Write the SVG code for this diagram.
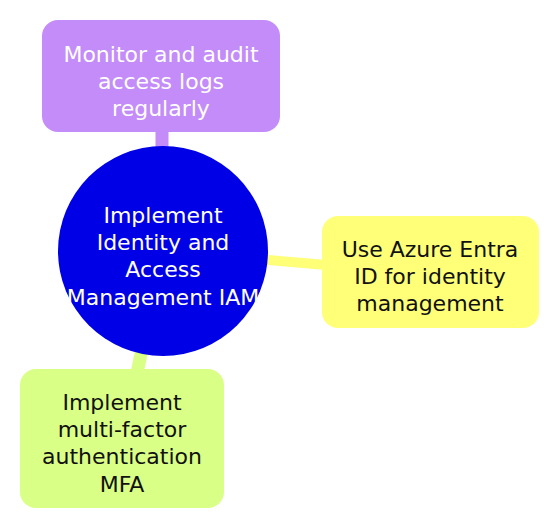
<svg xmlns="http://www.w3.org/2000/svg" width="559" height="529" viewBox="0 0 559 529">
<style>
text{font-family:"DejaVu Sans","Liberation Sans",sans-serif;font-size:22px;text-anchor:middle}
.w{fill:#ffffff}
.k{fill:#111111}
.edge{fill:none;stroke-linecap:butt}
</style>
<rect width="559" height="529" fill="#ffffff"/>
<g id="connectors">
<line class="edge" x1="162" y1="250" x2="162" y2="128" stroke="#C38CF9" stroke-width="13"/>
<line class="edge" x1="163" y1="251" x2="326" y2="265" stroke="#FFFF78" stroke-width="10"/>
<line class="edge" x1="163" y1="251" x2="137" y2="373" stroke="#D9FF86" stroke-width="13"/>
</g>
<g id="node-monitor">
<rect x="42" y="20" width="238" height="112" rx="16" fill="#C38CF9"/>
<text class="w" x="161" y="62">Monitor and audit</text>
<text class="w" x="161" y="89">access logs</text>
<text class="w" x="161" y="116">regularly</text>
</g>
<g id="node-root">
<circle cx="163" cy="251" r="105" fill="#0000E6"/>
<text class="w" x="163" y="223">Implement</text>
<text class="w" x="163" y="250">Identity and</text>
<text class="w" x="163" y="277">Access</text>
<text class="w" x="163" y="305">Management IAM</text>
</g>
<g id="node-azure">
<rect x="322" y="216" width="217" height="112" rx="16" fill="#FFFF78"/>
<text class="k" x="430" y="257">Use Azure Entra</text>
<text class="k" x="430" y="284">ID for identity</text>
<text class="k" x="430" y="311">management</text>
</g>
<g id="node-mfa">
<rect x="20" y="369" width="204" height="139" rx="16" fill="#D9FF86"/>
<text class="k" x="122" y="410">Implement</text>
<text class="k" x="122" y="437">multi-factor</text>
<text class="k" x="122" y="464">authentication</text>
<text class="k" x="122" y="492">MFA</text>
</g>
</svg>
